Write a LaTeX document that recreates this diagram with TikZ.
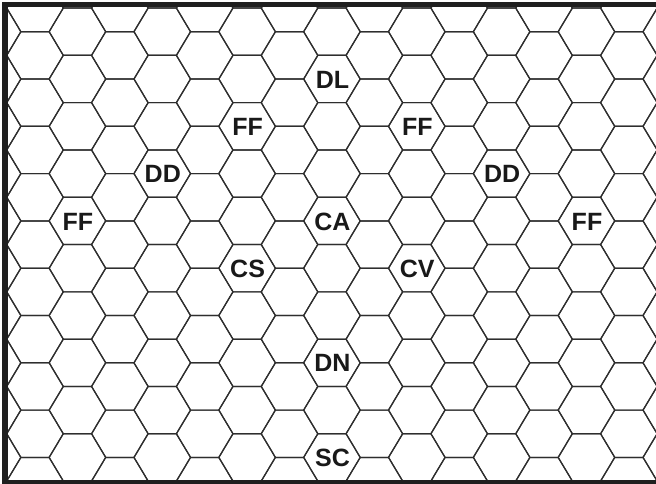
\documentclass[tikz,border=0pt]{standalone}
\usepackage{fontspec}
\setmainfont{Liberation Sans}
\begin{document}
\begin{tikzpicture}[x=1pt,y=-1pt,
  hexline/.style={line width=1.2pt, draw=black!82, line join=round},
  framebar/.style={fill=black!88},
  lab/.style={font=\fontsize{25}{29}\selectfont\bfseries, text=black!90, inner sep=0pt}]
\useasboundingbox (0,0) rectangle (656,484);
\fill[white] (0,0) rectangle (656,484);
\begin{scope}
\clip (7.5,7.3) rectangle (656,480);
\foreach \k in {-1,...,15}{
  \pgfmathsetmacro\cx{35+42.42*\k}
  \pgfmathsetmacro\off{mod(\k+2,2)==1 ? 31.7 : 55.35}
  \foreach \j in {-1,...,10}{
    \pgfmathsetmacro\cy{\off+47.3*\j}
    \draw[hexline] (\cx-28.28,\cy) -- ++(14.14,-23.65) -- ++(28.28,0) -- ++(14.14,23.65) -- ++(-14.14,23.65) -- ++(-28.28,0) -- cycle;
  }
}
\end{scope}
% frame
\fill[framebar] (2,2) rectangle (656,7.4);
\fill[framebar] (2,2) rectangle (7.5,484);
\fill[framebar] (2,480) rectangle (656,484);
% labels
\node[lab] (dl) at (332.5,79.5) {DL};
\node[lab] (ff1) at (247.6,126.8) {FF};
\node[lab] (ff2) at (417.3,126.8) {FF};
\node[lab] (dd1) at (162.8,174.1) {DD};
\node[lab] (dd2) at (502.1,174.1) {DD};
\node[lab] (ff3) at (77.9,221.4) {FF};
\node[lab] (ca) at (332.5,221.4) {CA};
\node[lab] (ff4) at (587,221.4) {FF};
\node[lab] (cs) at (247.6,268.7) {CS};
\node[lab] (cv) at (417.3,268.7) {CV};
\node[lab] (dn) at (332.5,363.3) {DN};
\node[lab] (sc) at (332.5,457.9) {SC};
\end{tikzpicture}
\end{document}
